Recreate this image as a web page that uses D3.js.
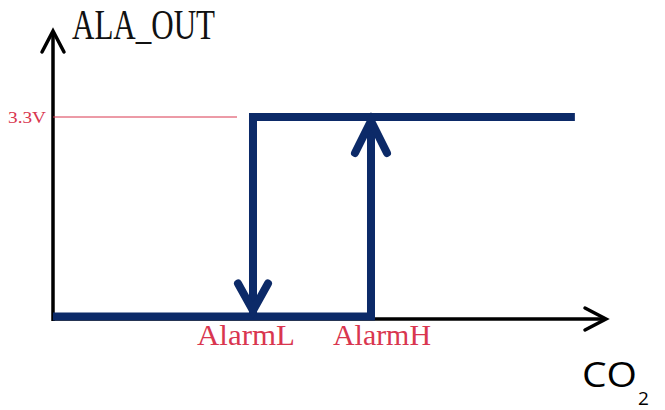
<!DOCTYPE html>
<html>
<head>
<meta charset="utf-8">
<script src="https://cdn.jsdelivr.net/npm/d3@7"></script>
<style>
  body { margin: 0; background: #fff; }
  svg { display: block; }
</style>
</head>
<body>
<script>
// hysteresis of the ALA_OUT pin vs CO2 concentration
var alarmNames = ['AlarmL', 'AlarmH'];
var alarmLevels = [3.61, 5.74];   // CO2, arbitrary units
var highVolt = 3.3;
var voltLabel = ['3.3V'];

// output when CO2 is rising (low until AlarmH) and falling (high until AlarmL)
var risingX = [0, 5.74, 5.74];
var risingY = [0, 0, 3.3];
var fallingX = [9.42, 3.61, 3.61];
var fallingY = [3.3, 3.3, 0];

var width = 665, height = 410;
var navy = '#0c2a68', red = '#d9364f';

var svg = d3.select('body').append('svg').attr('width', width).attr('height', height);

var x = d3.scaleLinear().domain([0, 10]).range([53, 607]);
var y = d3.scaleLinear().domain([0, 3.3]).range([316.5, 117]);

// axes (drawn as arrows)
var axisY0 = y(0) + 2.5;
svg.append('line').attr('x1', x(0)).attr('y1', axisY0 + 2).attr('x2', x(0)).attr('y2', 31)
  .attr('stroke', '#000').attr('stroke-width', 3.5);
svg.append('path').attr('d', 'M' + (x(0) - 11) + ',52L' + x(0) + ',31L' + (x(0) + 11) + ',52')
  .attr('fill', 'none').attr('stroke', '#000').attr('stroke-width', 3.5).attr('stroke-linecap', 'round');
svg.append('line').attr('x1', x(0)).attr('y1', axisY0).attr('x2', 605).attr('y2', axisY0)
  .attr('stroke', '#000').attr('stroke-width', 3.5);
svg.append('path').attr('d', 'M585,' + (axisY0 - 11) + 'L606,' + axisY0 + 'L585,' + (axisY0 + 11))
  .attr('fill', 'none').attr('stroke', '#000').attr('stroke-width', 3.5).attr('stroke-linecap', 'round');

// 3.3V reference line
svg.append('line').attr('x1', x(0)).attr('y1', y(highVolt)).attr('x2', 237).attr('y2', y(highVolt))
  .attr('stroke', red).attr('stroke-width', 1);
svg.append('text').text(voltLabel[0])
  .attr('x', 8).attr('y', y(highVolt) + 6)
  .attr('textLength', 38).attr('lengthAdjust', 'spacingAndGlyphs')
  .style('font-family', '"Liberation Serif", serif').style('font-size', '16px').attr('fill', red);

// the two state lines
var line = d3.line().x(function(d) { return x(d[0]); }).y(function(d) { return y(d[1]); });
var rising = d3.zip(risingX, risingY);
var falling = d3.zip(fallingX, fallingY);

svg.append('path').datum(rising).attr('d', line)
  .attr('fill', 'none').attr('stroke', navy).attr('stroke-width', 8).attr('stroke-linejoin', 'miter').attr('stroke-linecap', 'butt');
svg.append('path').datum(falling).attr('d', line)
  .attr('fill', 'none').attr('stroke', navy).attr('stroke-width', 8).attr('stroke-linejoin', 'miter').attr('stroke-linecap', 'butt');

// arrow heads: up at AlarmH, down at AlarmL
var upX = x(alarmLevels[1]), upTip = y(highVolt) + 4;
svg.append('path').attr('d', 'M' + (upX - 16) + ',' + (upTip + 32) + 'L' + upX + ',' + upTip + 'L' + (upX + 16) + ',' + (upTip + 32))
  .attr('fill', 'none').attr('stroke', navy).attr('stroke-width', 8).attr('stroke-linecap', 'round').attr('stroke-linejoin', 'miter');
var dnX = x(alarmLevels[0]), dnTip = y(0) - 6;
svg.append('path').attr('d', 'M' + (dnX - 15) + ',' + (dnTip - 27) + 'L' + dnX + ',' + dnTip + 'L' + (dnX + 15) + ',' + (dnTip - 27))
  .attr('fill', 'none').attr('stroke', navy).attr('stroke-width', 8).attr('stroke-linecap', 'round').attr('stroke-linejoin', 'miter');

// alarm labels under the x axis
var labelShift = [-7, 11];
svg.selectAll('.alarm').data(alarmLevels).enter().append('text').attr('class', 'alarm')
  .text(function(d, i) { return alarmNames[i]; })
  .attr('x', function(d, i) { return x(d) + labelShift[i]; })
  .attr('y', 345)
  .attr('text-anchor', 'middle')
  .attr('textLength', 98).attr('lengthAdjust', 'spacingAndGlyphs')
  .style('font-family', '"Liberation Serif", serif').style('font-size', '29px').attr('fill', red);

// axis titles
svg.append('text').text('ALA_OUT')
  .attr('x', 72).attr('y', 39)
  .attr('textLength', 143).attr('lengthAdjust', 'spacingAndGlyphs')
  .style('font-family', '"Liberation Serif", serif').style('font-size', '43px').attr('fill', '#111');

svg.append('text').text('CO').attr('x', 582).attr('y', 387)
  .attr('textLength', 55).attr('lengthAdjust', 'spacingAndGlyphs')
  .style('font-family', '"Open Sans", sans-serif').style('font-size', '35px').attr('fill', '#000');
svg.append('text').text('2').attr('x', 638).attr('y', 405)
  .style('font-family', '"Open Sans", sans-serif').style('font-size', '19px').attr('fill', '#000');
</script>
</body>
</html>
